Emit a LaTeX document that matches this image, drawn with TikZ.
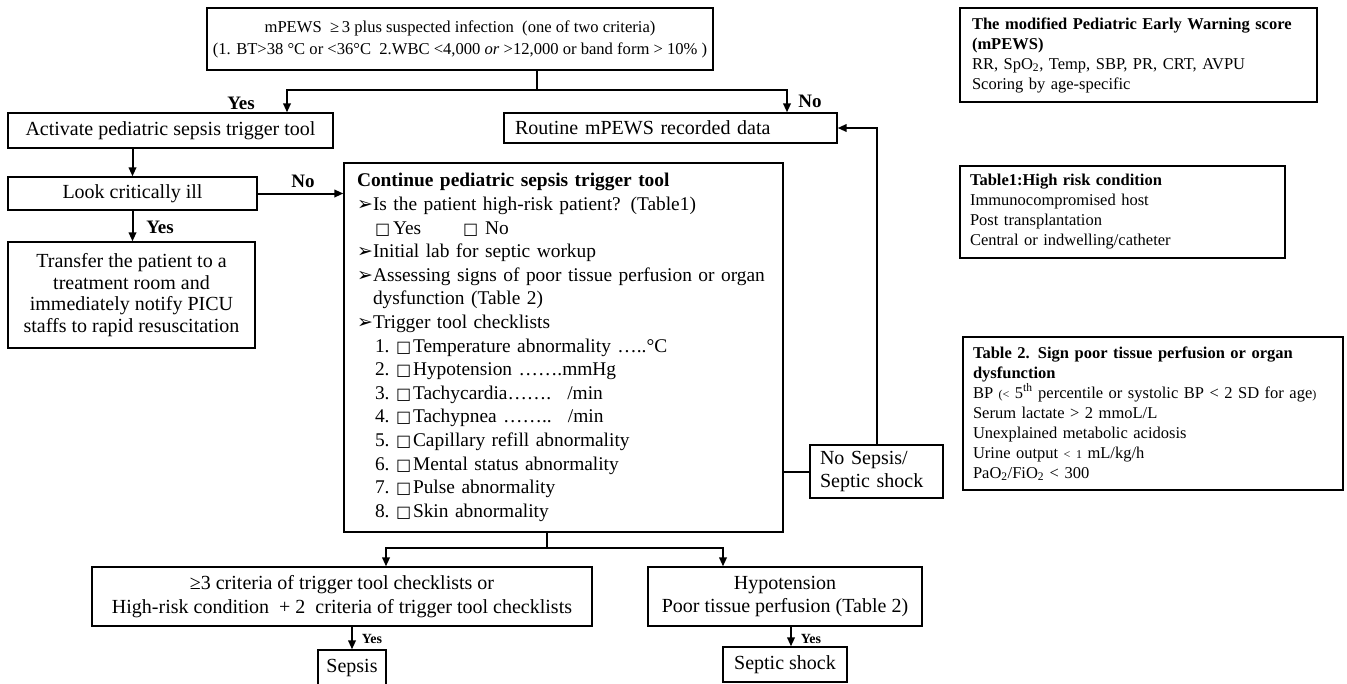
\documentclass[tikz,border=0pt]{standalone}
\usepackage{fontspec}
\setmainfont{Liberation Serif}
\newfontfamily\dejavu{DejaVu Sans}
\usetikzlibrary{arrows.meta,calc}
\newcommand{\abul}{\makebox[16pt][l]{\dejavu\fontsize{19}{19}\selectfont ➢}}
\newcommand{\cbx}{{\dejavu\fontsize{16}{16}\selectfont □}}
\newcommand{\smallsym}[1]{{\fontsize{12}{12}\selectfont #1}}
\newcommand{\citem}[2]{\hspace*{18pt}\makebox[21pt][l]{#1}\makebox[17pt][l]{\cbx}#2}
\begin{document}
\begin{tikzpicture}[x=1pt,y=-1pt,
  box/.style={draw, line width=1.3pt, inner sep=0pt, align=center, font=\fontsize{20}{23.5}\selectfont},
  rbox/.style={draw, line width=1.3pt, inner sep=0pt, align=left, font=\fontsize{16.5}{20}\selectfont},
  conn/.style={line width=2pt},
  arr/.style={conn, -{Triangle[length=9pt,width=7.5pt]}},
  lab/.style={inner sep=0pt, font=\bfseries\fontsize{19}{19}\selectfont},
  slab/.style={inner sep=0pt, font=\bfseries\fontsize{14}{14}\selectfont}]
\clip (0,0) rectangle (1347,683);
\useasboundingbox (0,0) rectangle (1347,683);

% main flow boxes
\node[box, minimum width=506, minimum height=62, font=\fontsize{16.6}{22}\selectfont] (top) at (460,39)
  {mPEWS \ ≥\,3 plus suspected infection \ (one of two criteria)\\
   (1. BT>38 °C or <36°C \ 2.WBC <4,000 \textit{or} >12,000 or band form > 10\% )};
\node[box, minimum width=325, minimum height=35] (act) at (170.5,130.5) {Activate pediatric sepsis trigger tool};
\node[box, minimum width=249, minimum height=33] (look) at (132.5,193.5) {Look critically ill};
\node[box, minimum width=247, minimum height=106, font=\fontsize{20}{21.5}\selectfont] (transfer) at (131.5,295)
  {Transfer the patient to a\\treatment room and\\immediately notify PICU\\staffs to rapid resuscitation};
\node[box, minimum width=333, minimum height=30, text width=311, align=left] (routine) at (670.5,128) {Routine mPEWS recorded data};

\node[box, minimum width=439, minimum height=369, text width=413, align=left, font=\fontsize{19.4}{23.6}\selectfont] (main) at (563.5,347.5)
  {{\bfseries Continue pediatric sepsis trigger tool}\\
   \abul Is the patient high-risk patient? (Table1)\\
   \hspace*{18pt}\makebox[18pt][l]{\cbx}Yes\hspace*{42pt}\makebox[22pt][l]{\cbx}No\\
   \abul Initial lab for septic workup\\
   \mbox{\abul Assessing signs of poor tissue perfusion or organ}\\
   \hspace*{16pt}dysfunction (Table 2)\\
   \abul Trigger tool checklists\\
   \citem{1.}{Temperature abnormality …..°C}\\
   \citem{2.}{Hypotension …….mmHg}\\
   \citem{3.}{Tachycardia……. \ /min}\\
   \citem{4.}{Tachypnea …….. \ /min}\\
   \citem{5.}{Capillary refill abnormality}\\
   \citem{6.}{Mental status abnormality}\\
   \citem{7.}{Pulse abnormality}\\
   \citem{8.}{Skin abnormality}};

\node[box, minimum width=133, minimum height=53, text width=113, align=left] (nosep) at (876.5,471.5) {No Sepsis/\\Septic shock};

\node[box, minimum width=500, minimum height=59] (crit) at (342,596.5)
  {≥3 criteria of trigger tool checklists or\\High-risk condition \ + 2 \ criteria of trigger tool checklists};
\node[box, minimum width=274, minimum height=59] (hypo) at (785,596.5) {Hypotension\\Poor tissue perfusion (Table 2)};
\node[box, minimum width=68, minimum height=36] (sepsis) at (352,668) {Sepsis};
\node[box, minimum width=124, minimum height=35] (septic) at (785,664.5) {Septic shock};

% side tables
\node[rbox, minimum width=357, minimum height=94, text width=333] (mpews) at (1138.5,55)
  {{\bfseries The modified Pediatric Early Warning score}\\
   {\bfseries (mPEWS)}\\
   RR, SpO\textsubscript{2}, Temp, SBP, PR, CRT, AVPU\\
   Scoring by age-specific};
\node[rbox, minimum width=325, minimum height=92, text width=305] (table1) at (1122.5,212)
  {{\bfseries Table1:High risk condition}\\
   Immunocompromised host\\
   Post transplantation\\
   Central or indwelling/catheter};
\node[rbox, minimum width=380, minimum height=153, text width=360] (table2) at (1153,413.5)
  {{\bfseries Table 2. Sign poor tissue perfusion or organ}\\
   {\bfseries dysfunction}\\
   BP \smallsym{(<} 5\textsuperscript{th} percentile or systolic BP < 2 SD for age\smallsym{)}\\
   Serum lactate > 2 mmoL/L\\
   Unexplained metabolic acidosis\\
   Urine output \smallsym{< 1} mL/kg/h\\
   PaO\textsubscript{2}/FiO\textsubscript{2} < 300};

% connectors
\coordinate (s1) at (537,90);
\draw[conn] (top.south -| s1) -- (s1);
\draw[arr] (s1) -| ([xshift=116.5]act.north);
\draw[arr] (s1) -| ([xshift=116.5]routine.north);
\node[lab] (yes1) at (241,103) {Yes};
\node[lab] (no1) at (810,101) {No};

\draw[arr] (act.south -| look.north) -- (look.north);
\draw[arr] (look.east) -- (look.east -| main.west);
\node[lab] (no2) at (303,181) {No};
\draw[arr] (look.south) -- (look.south |- transfer.north);
\node[lab] (yes2) at (160,227) {Yes};

\draw[conn] (nosep.west -| main.east) -- (nosep.west);
\draw[arr] (nosep.north) |- (routine.east);

\coordinate (s2) at (547,548);
\draw[conn] (main.south -| s2) -- (s2);
\draw[arr] (s2) -| ([xshift=44]crit.north);
\draw[arr] (s2) -| ([xshift=-62]hypo.north);

\draw[arr] (sepsis.north |- crit.south) -- (sepsis.north);
\node[slab] (yes3) at (372,639) {Yes};
\draw[arr] ([xshift=6]hypo.south) -- ([xshift=6]septic.north);
\node[slab] (yes4) at (811,639) {Yes};
\end{tikzpicture}
\end{document}
